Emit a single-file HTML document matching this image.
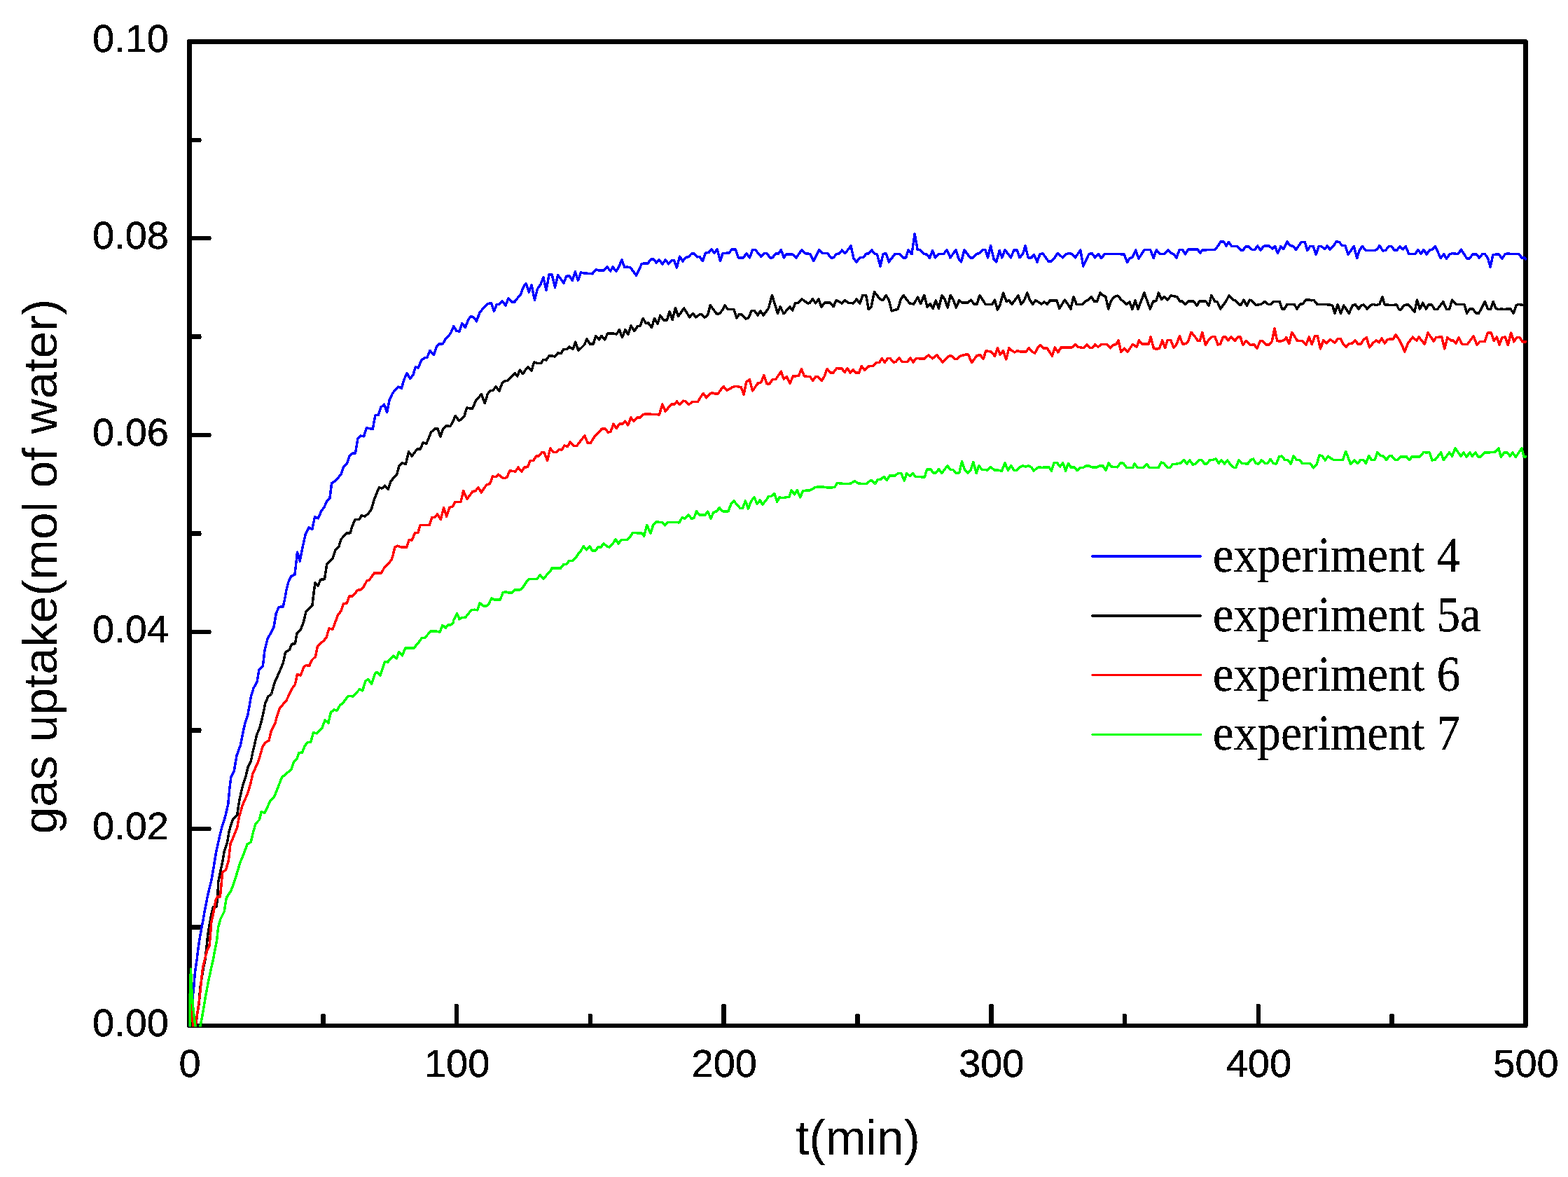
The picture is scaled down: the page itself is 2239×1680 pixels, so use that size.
<!DOCTYPE html>
<html lang="en"><head><meta charset="utf-8"><title>gas uptake vs t</title>
<style>
html,body{margin:0;padding:0;background:#fff;}
body{width:2239px;height:1680px;overflow:hidden;}
svg{display:block;}
.sans{font-family:"Liberation Sans",Arial,Helvetica,sans-serif;fill:#000;}
.serif{font-family:"Liberation Serif","Times New Roman",Times,serif;fill:#000;}
.tick{font-size:56px;stroke:#000;stroke-width:0.4px;}
.title{font-size:70px;stroke:#000;stroke-width:0px;}
.leg{font-size:72px;stroke:#000;stroke-width:0.3px;}
</style></head><body>
<svg xmlns="http://www.w3.org/2000/svg" width="2239" height="1680" viewBox="0 0 2239 1680">
<rect x="0" y="0" width="2239" height="1680" fill="#fff"/>
<defs><filter id="crisp" x="-5%" y="-20%" width="110%" height="140%" color-interpolation-filters="sRGB"><feComponentTransfer><feFuncA type="discrete" tableValues="0 1"/></feComponentTransfer></filter></defs>
<g shape-rendering="crispEdges" fill="#000">
<rect x="267" y="56" width="1915" height="7"/>
<rect x="267" y="1461" width="1915" height="6"/>
<rect x="267" y="56" width="7" height="1411"/>
<rect x="2175" y="56" width="7" height="1411"/>
<rect x="270" y="1320" width="17" height="7"/>
<rect x="287" y="1322" width="1" height="2"/>
<rect x="270" y="1180" width="31" height="6"/>
<rect x="301" y="1182" width="1" height="2"/>
<rect x="270" y="1039" width="17" height="7"/>
<rect x="287" y="1041" width="1" height="2"/>
<rect x="270" y="899" width="31" height="6"/>
<rect x="301" y="901" width="1" height="2"/>
<rect x="270" y="758" width="17" height="7"/>
<rect x="287" y="761" width="1" height="2"/>
<rect x="270" y="618" width="31" height="6"/>
<rect x="301" y="620" width="1" height="2"/>
<rect x="270" y="477" width="17" height="7"/>
<rect x="287" y="480" width="1" height="2"/>
<rect x="270" y="337" width="31" height="6"/>
<rect x="301" y="339" width="1" height="2"/>
<rect x="270" y="197" width="17" height="6"/>
<rect x="287" y="199" width="1" height="2"/>
<rect x="458" y="1448" width="7" height="16"/>
<rect x="459" y="1447" width="5" height="1"/>
<rect x="649" y="1434" width="6" height="30"/>
<rect x="649" y="1433" width="5" height="1"/>
<rect x="840" y="1448" width="6" height="16"/>
<rect x="840" y="1447" width="5" height="1"/>
<rect x="1030" y="1434" width="7" height="30"/>
<rect x="1031" y="1433" width="5" height="1"/>
<rect x="1221" y="1448" width="7" height="16"/>
<rect x="1222" y="1447" width="5" height="1"/>
<rect x="1412" y="1434" width="7" height="30"/>
<rect x="1413" y="1433" width="5" height="1"/>
<rect x="1603" y="1448" width="6" height="16"/>
<rect x="1603" y="1447" width="5" height="1"/>
<rect x="1794" y="1434" width="6" height="30"/>
<rect x="1794" y="1433" width="5" height="1"/>
<rect x="1984" y="1448" width="7" height="16"/>
<rect x="1985" y="1447" width="5" height="1"/>
<rect x="267" y="56" width="1" height="1" fill="#fff"/>
<rect x="2180" y="56" width="2" height="1" fill="#fff"/>
<rect x="2181" y="57" width="1" height="1" fill="#fff"/>
<rect x="267" y="1466" width="1" height="1" fill="#fff"/>
<rect x="2181" y="1465" width="1" height="2" fill="#fff"/>
</g>
<defs><clipPath id="plot"><rect x="269.5" y="57" width="1912" height="1408.4"/></clipPath></defs>
<g clip-path="url(#plot)" fill="none" stroke-width="3.5" stroke-linejoin="round" stroke-linecap="round" shape-rendering="crispEdges">
<path stroke="#0000ff" d="M270.5,1468 276.6,1410.4 278.5,1387.2 281.1,1370 283.1,1352.8 285.8,1335.5 289.1,1318.3 292.4,1299.8 295.7,1282.5 299,1268 302,1256.1 305.4,1235.8 308.8,1215.5 313.6,1193.8 317,1180.2 321.7,1165.3 325.8,1147.6 327.8,1125.9 329.8,1109.7 334.3,1100.2 338,1078.5 343.4,1063.6 346.8,1046.1 350.2,1031.2 353.6,1021.7 356.3,1006.8 358.3,994.6 362,982.4 367.1,972.9 370.1,955.3 375.3,951.2 378,928.2 382.1,911.9 390.9,895.6 394.3,875.3 398.3,866.4 404.4,865.8 407.2,852.2 408.5,844.3 411.9,830.7 415.6,822.6 421,819.9 422.7,805 424.5,788 428.2,800.9 432.2,780.5 436.3,762.2 441,752.7 445.8,755.5 449.5,737.8 454.3,739.9 458.7,729.7 462.7,724.3 466.8,715.4 470.9,711.4 473.6,689.7 479,686.3 487.2,676.8 491,665.5 495.3,661.5 499.1,651 503.4,647 507.5,647 507.8,645 510.9,626.1 514.6,622.1 519.6,622.8 523.4,611 527.5,611.5 532.2,612.6 535.9,592.5 540.4,592.2 544,581.4 548.5,577.3 552.6,588.2 556,571.2 560.7,561 564.8,556.3 568.9,552.2 573.3,554.3 577,541.8 581.1,532.6 585.5,540.4 589.9,535.3 593.3,523.8 597.3,525.1 601.4,514.9 606.1,510.6 609.9,510.2 614,500.3 619.4,506.5 623.5,494.6 627.2,490.8 632.2,490.8 636,484.4 643.4,475.9 647.9,465.4 651.6,472.2 656.1,473.2 659.7,461.4 664.5,467.5 668.5,456.6 672.3,451.5 676.7,453.2 680.5,458.7 684.8,446.4 690.9,439 696.3,433.6 701.6,432.8 705.4,444.1 709.2,434.6 713.3,434.2 717.4,429.9 722,436 725.8,425.8 731.2,431.2 734.6,431.2 739.3,425.1 743.4,421 747.5,409.2 751.3,404.8 755.3,417 759,406.8 763.5,428.2 767.5,412.2 771.9,406.1 775.9,395.9 780,414.3 784.1,391.9 788.2,391.9 792.5,410.2 796.6,392.6 805.1,404.1 808.5,394.3 813.2,393.9 817.3,400.3 821.4,387.8 825.5,400 829.5,388.9 833.6,389.8 841,390.5 845.8,390.8 851.2,384.8 856,386.2 862.7,385.8 867.1,380.8 871.6,387.1 875,381 879.7,387.1 883.8,381 887.8,370.9 891.9,381.7 895.3,381 900,381.7 908.6,393.2 916.3,376.7 920.4,375.9 925.1,375.9 929.2,370.2 933.3,369.9 937.1,374.9 941.4,370.9 945.8,377 950.2,370.9 954.7,376.7 959,371.5 962.4,371.3 966.5,382.1 970.6,366.1 975,372.9 979.1,367.5 982.8,366.8 987.5,362 991.6,362 995.7,366.8 999.5,366.4 1000,367.8 1003.4,372.6 1007.5,361 1012.2,360.4 1015.6,355.9 1020.3,361 1024.1,355.6 1028.5,372.6 1031.9,361.7 1040.7,361 1045.4,355.9 1050.2,355.9 1054.2,367.8 1061.7,367.8 1065.8,361.7 1070.5,367.8 1074.6,356.7 1078.7,356.7 1086.8,366.5 1090.9,361.7 1094.9,361.7 1099.7,367.8 1103.1,367.8 1107.8,361.7 1111.2,362.4 1115.3,356.7 1119.3,367.8 1122.7,363.1 1131.6,363.1 1137,367.8 1144.8,356.7 1149.2,361.7 1156.6,362.4 1161.7,372.6 1169.5,356.7 1175,361.7 1181.7,361.7 1186.5,367.8 1189.9,367.8 1194.6,362.7 1198.7,361.7 1202.4,357 1206.8,361.7 1215,350.9 1219,369.2 1223.1,373.9 1227.8,367.8 1233.3,367.1 1236.7,362.4 1240.7,361.7 1244.8,357 1248.9,362.4 1252.5,363.1 1257,380 1261.1,362.4 1265.1,361.7 1269.2,373.9 1278,362.4 1284.8,362.4 1289.6,367.8 1293.6,367.8 1297,357 1302,362.7 1306.1,333.9 1310.2,356.3 1314.2,356.7 1319,362.4 1323.7,363.1 1327.5,368.5 1331.5,357.6 1335.5,367.8 1340,362.7 1347.5,362.4 1352.2,356.7 1357,367.8 1364.8,356.7 1368.9,369.2 1372.6,373.9 1377,356.7 1385.4,367.8 1389.5,367.8 1394.9,362.4 1398.3,361.7 1403.1,356.7 1407.1,356.7 1410.5,367.8 1414.6,350.9 1419.1,369.8 1422.7,373.9 1427.2,357.6 1430.9,367.8 1434.9,356.7 1443.5,367.8 1447.8,357 1452.2,357 1456,367.8 1460.7,362.4 1464.1,350.9 1468.2,367.8 1472.9,367.8 1476.3,363.5 1481.1,373.9 1485.1,362.4 1489.2,362.1 1497.3,373.2 1501.4,373.2 1505.9,367.8 1510.2,361.7 1517.7,367.8 1522.4,362.7 1526.5,361.7 1530.6,362.4 1535.3,367.8 1542.8,357 1546.8,380 1555,362.4 1559.3,361.7 1563.8,367.8 1568.5,362.4 1572.6,368.5 1577.4,362.7 1599.1,362.7 1605.4,363.1 1609.5,374.6 1613.3,368.5 1617,367.1 1621.7,357 1626,369.2 1633.9,356.7 1642.7,356.7 1647.2,368.5 1651.3,356.7 1656.3,362.7 1662.4,362.4 1667.8,357 1672.6,361.7 1675.9,362.7 1680,368.1 1684.1,356.7 1688.8,356.7 1692.5,362.7 1697,355.9 1709.9,355.9 1713.7,361 1717.3,357 1734.9,356.3 1739,351.3 1743.1,344.8 1747.2,344.8 1751.2,350.9 1754.6,345.4 1758.7,351.5 1766.1,351.5 1771.6,357 1775,357 1779,351.8 1783.1,351.8 1787.8,356.3 1791.9,356.3 1795.6,350.9 1800,357 1804.8,351.3 1811.6,350.9 1817,354.9 1820.8,351.5 1824.5,361.7 1828.9,351.5 1833,355.6 1838,344.8 1842.1,350.5 1846.2,351.3 1850.6,356.3 1858.4,345.4 1863.1,345.4 1866.9,357.6 1870.6,351.5 1875.3,351.5 1879.1,363.1 1883.2,351.5 1886.8,351.5 1891.6,355.6 1895.4,350.9 1899.1,356.3 1904.1,351.3 1907.9,345 1912.2,345.4 1916.3,350.2 1921,350.5 1925.1,363.1 1929.2,357.6 1933.2,351.5 1937.7,368.5 1941.4,357 1945.4,351.5 1950.2,357.6 1963.1,357.6 1966.5,355.9 1969.8,350.5 1974.6,358 1978.7,357.2 1983,351.5 1986.8,351.5 1991.1,357 1994.9,357 1999,351.5 2003.3,355.9 2007.1,351.5 2011.9,362.7 2020.7,362.7 2024.8,356.3 2029.1,362.4 2032.9,356.3 2037,363.1 2041.7,356.7 2045.8,355.9 2049.2,351.3 2057.3,368.5 2061.7,362.7 2065.5,369.2 2070.2,362.7 2074.3,361.7 2081.7,362.7 2086.5,356.3 2094.6,368.9 2098,368.9 2103.2,363.1 2108.2,362.7 2112.3,368.1 2116.7,362.7 2120.4,362.7 2124.5,368.5 2128.1,381.1 2131.9,363.7 2140.1,362.7 2144.8,369.2 2149.3,362.7 2152.9,361.7 2157.7,362.7 2169.2,362.7 2173.3,368.5 2176.7,367.8 2178.5,369.8"/>
<path stroke="#000000" d="M272,1444 274.3,1472 278.8,1472 280.4,1457.3 282,1445.3 284.5,1430.2 285.2,1418.2 286.4,1406.1 288.5,1394.1 290.3,1382 293,1370 295.1,1350.1 297.1,1331.6 300.4,1313 302.4,1302.4 304.3,1294.7 309,1294.5 311,1278.6 311.5,1260.2 314.5,1245.3 317.6,1230.4 320.4,1214.8 324.4,1203.3 327.1,1187 329.8,1177.5 332.6,1169.3 338.7,1163.2 340.7,1149 342.7,1138.2 346.8,1120.5 350.9,1108.3 354.3,1094.1 358.3,1086.6 361,1073.1 363.1,1065 366.5,1048.9 370.5,1040 373.9,1027.2 376.9,1013.6 378.7,1004.1 382.7,994.6 387.5,990.5 392.2,974.3 399.7,957.3 404.4,945.8 407.6,930.9 413.3,927.5 416.6,919.3 421.4,918.7 424.1,903.7 429.5,898.3 433.6,887.5 437,872.5 445.8,864.4 447.8,848.1 449.9,832.1 453.9,836.1 458,827.3 463.4,826.7 466.1,809.7 466.5,805.6 475,797.5 479,785.3 483.8,780.5 486.9,769.7 495.3,760.9 500,760.9 503.4,750 507.2,741.5 512.9,741.5 516.3,735.8 521.1,737.1 525.8,733.1 530.3,727 534,714.1 537.3,705.3 541.4,695.8 545.5,697.1 549.5,693.1 554.3,698.5 558.4,686.3 566.5,677.5 569.9,665.3 574.2,660.5 579.4,662.5 583.5,644.9 588.2,651 595.7,640.8 600,641.5 604.1,631.8 608.9,633.2 615.6,616.9 620.8,611.9 625.1,611.9 628.9,623.4 632.6,612.6 637.1,607.8 642.8,608.5 646.8,601.7 650.2,593.6 655.2,600.4 659,598.3 663.1,593.6 666.5,582.1 674.6,583.4 679.4,571.9 687.5,562.7 692.3,575.7 696.3,562.4 700,557.7 704.1,557.3 707.9,551.9 712.9,558 717.4,546 721.7,543.8 725.1,543.1 732.5,535.6 735.5,532.9 738.7,537 742.3,528.2 746.8,533.6 750.2,528.2 754.2,524.1 759,528.9 762.7,516.9 766.5,518.3 772.6,518.3 775.7,513.3 780,513.9 784.1,507.8 788.2,507.8 792.2,509.2 796.6,503.8 801,504.7 804.4,499 809.9,498.3 812.6,495 818,498.3 821.8,488.2 825.9,500.1 828.8,497.7 834.3,492.2 838.1,484.1 842.4,491.2 847.2,491.2 850.8,479.4 855.3,484.8 859,479.4 863.8,484.8 867.5,476 876.3,476 880.4,477.1 884.4,470.5 888.5,481.7 892.9,470.3 896.9,477.3 901,465.1 905.9,472.6 910.2,465.8 914.3,465.1 918.1,454.3 922.4,461.7 925.8,461 930.6,467.6 934.4,454.3 939,462.1 942.8,450.2 947.5,457 952.3,457 956.1,444.8 960.1,456.7 964.5,439.6 968.5,451.6 976.7,440 984.8,452.9 989.6,447.5 993.6,452.9 999.5,448.6 1000,448.5 1002.7,449.2 1006.1,453.3 1010.6,449.9 1014.2,435.6 1023.1,447.8 1027.1,447.8 1031.9,442.4 1035,435.6 1039.3,441.7 1048.1,441.7 1051.8,453.9 1055.6,448.5 1059.7,449.2 1064.8,455.3 1069.2,453.3 1073.2,443.5 1077.3,443.5 1082.1,449.9 1085.7,443.8 1090.2,449.9 1097.6,439.7 1102.4,421.4 1110.5,447.2 1114.2,437.7 1119.1,447.8 1127.8,438.1 1131.6,443.1 1135.6,432.6 1139.7,432.2 1144.8,426.8 1153.3,432.9 1156,432.6 1160.4,426.8 1164.8,432.9 1168.9,426.8 1172.9,438.1 1177.9,431.8 1185.8,432.2 1190.1,437.7 1194.2,428.6 1202.1,432.9 1206.1,428.6 1211.6,432.2 1218.4,432.9 1223.1,427.2 1227.8,432.9 1231.9,421.4 1236.7,421.4 1240.3,441.7 1244.1,438.3 1248.5,416.6 1257,427.5 1261.1,428.2 1265.1,421.4 1269.2,428.2 1273.3,443.8 1282.1,441.3 1286.2,427.5 1290.2,421.4 1295,428.2 1299.1,432.9 1304.7,434 1310.6,424.1 1314.6,433.6 1319.7,421.4 1324.1,438.3 1328.2,433.6 1332.3,440.4 1336.3,428.8 1340.4,440.4 1345,421.4 1348.8,426.8 1353.2,439 1357.2,421.4 1361,427.5 1365.4,439 1369.8,428.6 1373.9,432.2 1381.4,432.2 1386.8,428.2 1390.9,434.3 1394.9,434 1399,421.4 1407.1,434.3 1416.6,434.3 1420.4,428.2 1424.5,442.1 1428.2,434.3 1432.6,418 1437,430.2 1441,428.8 1444.8,434.3 1453.9,422.1 1458,434.3 1462.5,428.8 1466.8,418 1470.6,428.2 1474.7,434.3 1478.8,428.6 1487.2,434 1491.2,430.9 1495.3,434.3 1499.4,428.8 1508.9,428.8 1512.7,440.4 1520.4,428.2 1524.5,433.6 1528.9,441 1533,423.4 1537.1,434.3 1546.2,434.3 1550.9,429.5 1554.3,428.2 1558.4,423.4 1562.4,430.2 1566.5,430.2 1571,418 1574.6,421.4 1578.7,423.4 1582.8,441 1586.8,428.8 1591.6,423.7 1595.7,422.1 1599.1,425.5 1600,426.8 1608.4,434.3 1612.9,430.9 1617,441.7 1621,428.8 1625.1,441 1633.9,418 1642.3,441 1646.8,430.2 1650.9,429.5 1654.5,418 1658.6,427.5 1662.7,423.7 1667.1,428.2 1672.2,421.8 1680.7,423.7 1684.8,429.9 1688.2,430.2 1692.5,434.3 1696.6,430.2 1704.4,430.2 1709.2,436.3 1712.6,430.2 1722.1,430.2 1726.1,436.3 1729.9,421.4 1734.5,430.2 1738.3,430.9 1742.7,441 1750.5,430.2 1754.9,422.1 1760,427.5 1763.4,428.8 1768.9,434.3 1771.6,435.6 1776,428.2 1780.4,436.3 1784.2,428.2 1787.2,428.8 1793.3,435.6 1800.7,434.3 1806.1,430.5 1810.9,434.3 1814.3,434.3 1818.4,430.5 1827.2,430.5 1830.6,441 1834,441 1838,434.3 1848.2,434.3 1852,441 1856.3,434.3 1860.4,433.6 1864.5,428.2 1870.6,428.2 1872.6,428.8 1876,428.2 1880.7,434.3 1899.1,434.9 1902.7,436.3 1906.1,447.2 1910.2,434.9 1914.6,447.2 1918.7,436 1926.4,447.2 1931.5,435.6 1935.5,434.9 1940,441 1944.1,435.6 1947.5,434.9 1952.2,441 1957,435.6 1961,434.5 1965.1,435.6 1969.8,434.3 1973.9,423.7 1977.3,434.9 1988.2,435.6 1994.3,434.9 1997.6,441.7 2000.4,442.1 2005.1,435.4 2011.2,434.9 2020,445.1 2023.4,428.2 2027.5,441 2031.6,432.2 2036.3,441 2039.7,434.9 2044.4,434.9 2048.5,441.7 2052.6,441.3 2060.7,430.5 2065.5,441.7 2069.5,441.7 2073.6,428.2 2079,434.3 2091,434.3 2094.6,447.2 2098.7,441 2102.8,441 2108.2,447.2 2111.6,447.2 2120.4,430.5 2124.5,441 2128.5,441.7 2132.2,430.5 2136,440.4 2140.1,441.7 2144.1,441 2148.2,441.7 2152.3,440.8 2157,441 2161.1,447.2 2165.1,435.6 2169.2,434.5 2175.3,435.6 2178.5,435.6"/>
<path stroke="#ff0000" d="M272.5,1428 276.5,1472 278.6,1472 280.2,1457.3 282,1445.3 284.1,1430.2 285.6,1418.2 286.8,1406.1 288,1394.1 289.5,1382 292.2,1370 295.7,1356.8 299,1350.1 300.4,1334.2 301.7,1317 305.7,1298.4 308.3,1283.9 310.3,1279.9 314.3,1279.9 315.6,1268 317.6,1245.3 322.7,1241.2 326.5,1227.7 329.2,1203.3 332.6,1196.5 338.7,1180.9 341.4,1166.6 346.1,1149.7 353.6,1132.7 357.6,1119.2 361,1104.2 364.4,1096.8 369.2,1085.9 375.3,1064.9 379.3,1059.7 384.1,1057 387.2,1043.4 392.9,1032.6 395.6,1021.7 399.7,1010.2 408.5,1000.7 417.3,982.4 421.4,977 424.4,962.7 429.3,964.1 433.6,952.6 437,949.6 441.7,950.5 445.1,942.4 450.6,937 453.3,922.7 462.8,913.9 466.1,909.8 469.9,897 475,898.3 482.4,878 487.2,871.9 490.6,861.7 495.3,861 498.7,851.1 503.4,850.8 510.9,842.3 515.6,841.6 519.7,836.8 523.8,829.1 527.2,828 534.6,817.8 544.8,817.8 548.2,811.1 559,799.3 561.1,792.7 563.8,780.8 567.9,779.2 572.6,780.8 580.7,781.2 584.1,770.4 588.2,771 592.3,760.9 597,760.2 600,749.3 607.1,749.5 613.2,749.5 616.9,738.4 621,738.4 624.5,733.9 629.5,741.4 633.6,724.4 637.7,737.3 641.7,724.4 646.5,722.7 649.9,716.3 653.3,716.3 658,716.3 661.7,700.7 667.1,712.2 675,701.4 679,700.7 682.8,695.9 687.4,703.1 691.2,696.6 695.3,691.9 699.4,690.5 700,689.5 703.4,680 708.1,680.7 711.5,677.1 716.3,681.4 720.1,682.7 724.1,681.4 727.8,671.9 735.9,673 740,667.2 744.8,673.3 748.8,667.2 753.6,666.5 757,657.7 761.7,657.3 765.8,650.9 769.2,650.9 773.9,645.5 777.3,646.1 781.6,657.3 785.7,640 790.2,645.5 794.3,645.5 798.3,641.4 802.4,642.1 805.8,636 810.5,637.3 814.2,630.9 819.1,636.4 823.4,636.6 830.2,627.8 834.9,622 839,631.9 843.1,632.6 849.9,621.7 854.6,617.4 859.4,612 864.1,612 868.2,617 872,616.3 876,605.2 880.1,611.5 884.4,605.2 888.5,605.2 892.6,601.1 896.9,606.8 900.7,595.9 905.1,601.4 909.5,596.2 913.6,596.2 918.4,591.9 922.4,590.8 929.2,591.2 941.4,591.9 945.8,577 950.2,587.1 958.4,577 963.1,577 966.5,572.9 970.6,577.6 975.3,572.2 979.4,572.9 983.2,577.6 988.9,573.6 996.3,573.6 1000,567.5 1004.1,561.4 1008.8,567.8 1012.9,562.7 1017,560.7 1021,562.1 1025.1,562.1 1029.2,556.4 1033.2,551.5 1038,557.3 1046.1,552.6 1050.2,551.5 1054.2,551.9 1058.3,552.6 1062.1,563.1 1065.8,545.1 1070.3,541.7 1074.6,558 1082.1,547.1 1086.8,545.8 1090.9,535.3 1094.9,547.8 1099,547.8 1103.1,541.7 1107.8,541.4 1115.3,530.2 1119.3,541 1123.4,537.6 1128.2,547.1 1132.2,537 1140.4,536.6 1144.4,526.5 1148.5,537 1156.6,537.6 1160.7,543.3 1164.8,537.6 1167.5,537.6 1173.3,543.3 1177,537.6 1181.1,526.5 1185.8,532.2 1189.9,532 1194.6,525.7 1202.1,526.1 1206.1,531.5 1209.9,525.7 1214.3,532.2 1218.1,527.5 1222.4,532.2 1226.5,532.2 1230.3,522.5 1234.6,528.2 1240.1,523 1246.8,522.1 1250.9,517.6 1255.7,517.3 1259.3,511.6 1263.4,517.3 1267.5,511.6 1271.2,511.6 1276,517.3 1279.4,516.2 1284.1,510.8 1288.2,516.6 1295.7,516.6 1299.5,511.2 1300,510.9 1304.1,517 1308.1,511.3 1312.2,511.8 1320.3,511.8 1325.8,506.8 1331.5,511.8 1337.7,506.8 1346.1,517 1354.9,508.2 1359,508.2 1363.7,512.3 1367.1,512.3 1371.2,508.2 1378.7,506.1 1382.7,506.1 1387.5,517.7 1394.9,507.5 1399.7,506.8 1404.2,512.3 1407.8,500.7 1415.3,502.1 1420.4,508.2 1424.5,496.7 1428.2,506.1 1432.6,500.7 1436.7,512.9 1440.8,496.7 1444.8,500.5 1448.9,502.8 1453,500.7 1457.3,502.1 1464.8,502.1 1469.3,496.7 1473.6,502.1 1477.7,504.1 1481.7,496.7 1485.8,492.6 1490.6,497.3 1495,496.7 1502.4,508.2 1506.4,496 1510.9,502.8 1515,496 1530.6,496 1535.3,491.5 1539.4,495.3 1547.5,496.7 1552,491.9 1556.3,496.7 1559.7,496.7 1563.8,491.5 1567.9,495.3 1572.6,491.5 1580.7,491.5 1585.5,496.7 1590.2,492.3 1593.6,491.5 1597,485.8 1600.7,502.1 1605.4,497.3 1610.2,502.1 1617.4,491.5 1623.1,495.3 1626.4,485.8 1631.2,491.2 1640,491.2 1643.1,481.1 1647.5,497.3 1651.5,498.3 1655.6,497.3 1659.7,485.8 1663.7,496.7 1667.1,485.5 1671.9,485.8 1675.9,496 1680,491.5 1684.4,479.7 1688.8,491.2 1693.6,490.6 1697,486.5 1701,474.3 1705.8,479.7 1710.5,486.5 1713.2,486.5 1716.9,474.3 1721.4,492.6 1726.1,484.7 1730.9,480.7 1734.9,480.7 1739,491.9 1742.4,491.2 1746.5,481.1 1749.9,481.1 1753.9,485.8 1758,481.1 1763.4,486.5 1767.5,481.1 1771.2,481.1 1775,492.6 1779,486.5 1785.8,492.6 1790.6,491.5 1795,497.3 1799.4,486.9 1802.8,486.5 1808.2,492.3 1812.3,491.9 1816.3,487.2 1820,468.9 1823.8,486.5 1828.5,487.2 1833,485.8 1836.7,481.7 1840.7,490.6 1844.8,474.3 1852.3,486.1 1860.4,486.9 1865.1,491.9 1869.2,481.1 1873.3,491.5 1877.4,479.7 1881.4,479.7 1885.5,498 1889.6,485.8 1894.3,489.9 1899.1,484.4 1906.1,489.2 1910.2,483.8 1914.2,483.4 1918.3,491.2 1922.4,495.3 1926.4,490.6 1931.2,489.9 1935,485.8 1939.3,491.2 1943.4,491.2 1946.8,485.1 1951.3,481.7 1955.6,496 1960.4,489.9 1965.1,485.8 1969.2,488.8 1973,483.1 1977.3,489.9 1981.4,484.4 1989.5,483.8 1992.9,477.7 1997.6,484.4 2001,490.6 2005.8,502.1 2010.5,489.9 2017.3,481.1 2022.7,486.1 2026.1,481.1 2034.3,491.2 2039,475 2043.5,481.7 2047.2,486.9 2050.5,481.7 2058.7,480.7 2062.7,498 2066.8,481.7 2071.6,485.8 2075,486.1 2079,489.9 2083.1,481.7 2087.8,491.2 2095.3,491.5 2100,485.1 2104.1,479.7 2108.9,491.9 2112.7,487.8 2120.4,487.2 2124.5,475 2129.2,475 2133.3,486.5 2137.3,481.1 2141.1,491.9 2144.8,481.7 2149.3,481.1 2153.3,492.6 2157.7,475 2161.8,487.8 2165.8,481.7 2169.9,481.7 2174,487.8 2178.5,487.8"/>
<path stroke="#00ff00" d="M271,1472 271.2,1420 272.5,1383 273.6,1410 275.5,1436 277.5,1454 280,1472 285,1472 285.9,1465.2 288.6,1451.3 291.3,1436.3 293.4,1422.4 296.1,1408.6 298.6,1395.9 301.6,1382 304.3,1370 307,1355.4 309.6,1342.2 311.6,1323.6 314.9,1311.7 320.2,1301.1 322.9,1283.9 324.2,1279.9 329.5,1271.9 333.2,1262.9 338.7,1245.3 342.7,1231.7 348.8,1216.8 352.9,1205.3 358.3,1201.9 361,1189.7 365.1,1175.5 370.5,1170 373.2,1158.5 378,1160.5 382.1,1151.7 385.5,1143.6 391.3,1138.2 395.6,1127.3 402.4,1109.7 410.5,1102.9 416,1098.1 420,1086.6 424.1,1082.5 426.8,1074.4 431.6,1074.1 435,1065 439,1059.7 443.8,1059 447.4,1045.9 452.6,1046.8 460,1038.7 464.1,1027.8 468.9,1031.9 472.3,1017 477,1012.9 481.1,1014.3 485.8,1006.1 489.2,1004.1 497.3,993.3 504.1,993.9 513.6,983.8 517.7,985.8 521.8,972.2 525.8,969.5 530.6,976.3 535.3,962.1 538,959.3 542.8,964.1 549.6,944.4 553.6,945.1 560,937.6 561.7,936.2 566.4,939.8 569.7,930.4 574.4,935.8 578.7,925 591,925 598.6,915.9 602.2,910.9 606.5,910.2 615.2,901.1 621.7,900.9 628.2,902.1 631.9,892.4 636.2,896.4 640.2,892.1 644.2,891.7 647.1,888.5 647.8,885 652.6,875.6 656,883.8 660,881.7 664.8,881.1 672.9,870.9 677.7,870.2 681.7,870.9 685.1,860.7 689.9,864.8 694.6,864.8 698,862.1 700,857.5 702,853.8 706.1,856.1 714.2,856.1 718.3,845.7 722.4,844.9 726.4,846.2 730.5,846.2 735.3,841.9 742.7,841.9 747.5,837.2 751.5,831 755.3,826.3 767.1,826.3 771.2,820.5 775.9,826.3 781.4,819.9 785.2,816.1 788.2,811 797.6,811 800.4,811.4 804.4,806 809.2,805.3 812.6,800.5 817.3,800.5 822.7,795.1 825.5,791 828.8,787.6 833.2,779.5 837.7,784.9 842.1,779.8 845.8,786 850.5,786 853.9,781.1 858,780.9 862.1,775.7 866.8,780.2 870.2,781.1 875,776.1 879,769.7 883.1,776.1 887.2,770.3 895.3,770.3 900,765.7 903.4,760.5 910.2,760.8 917,761.2 919.7,765.3 923.8,749.4 928.9,761.2 932.6,749.7 936.7,744.9 945.5,745.6 949.5,749.7 953.6,745.6 965.8,745.6 969.9,745.9 974,738.8 978,740.2 982.8,734.8 987.5,740.2 990.9,739.5 994.6,729.6 998.4,734.8 1000,735 1006.8,735 1010.8,730.2 1014.9,740.1 1019,731.2 1023.1,729.8 1027.4,724.8 1031.9,729.8 1040,729.8 1044.1,718.7 1047.7,714.9 1052.2,720 1057,725.7 1060.4,725.7 1064.4,714.9 1068.5,726.1 1072.6,715.3 1077,709.9 1081.1,719.4 1085.2,713.9 1088.8,720 1093.6,714.6 1097.6,708.5 1101,708.5 1105.8,704.4 1109.6,716.2 1113.2,709.9 1118,710.8 1122.1,709.9 1126.8,709.2 1130.2,699.7 1134.5,705.8 1138.3,699.7 1142.7,709.9 1146.5,700.4 1156,700 1160,698.3 1164.1,695.4 1169.5,694.9 1175,694.9 1183.8,696.3 1191.9,695.4 1195.3,689.5 1199.4,689.9 1206.1,690.5 1214.3,690.2 1220.4,686.8 1226.5,690.2 1237.3,690.5 1242.8,685.9 1245.5,686.1 1249.5,690.5 1253.6,684.5 1257.7,684.1 1262.4,680.4 1266.1,685.5 1270.6,678.7 1277.4,679.3 1282.8,675.3 1286.8,675.6 1291.3,686.1 1294.6,675.6 1299.5,679.6 1303.4,675.6 1307.5,680.4 1313.6,680.4 1317,681.3 1320.3,681 1323.7,669.9 1329.2,669.9 1332.5,674.9 1336.6,674.9 1340.4,669.5 1344.8,675.4 1352.9,664.8 1357,670.5 1361,670.5 1365.8,675.4 1369.8,674.9 1373.5,658.7 1377.6,670.9 1382.1,675.4 1386.1,670.9 1389.8,659.6 1394.3,675.4 1397.9,664.8 1402.4,670.5 1407.1,670.5 1410.1,671.3 1414.6,666.8 1420,670.9 1426.8,671.3 1430.5,672.2 1434.9,660.7 1439.4,671.3 1443.8,664.5 1447.8,671.3 1451.9,671.3 1456.6,666.8 1460.7,664.8 1464.8,666.1 1468.9,664.8 1472.9,667.2 1476.3,672.2 1481.1,667.5 1485.1,666.8 1487.8,667.5 1491.2,666.8 1498,666.8 1501.4,672.2 1505.1,660.7 1509.5,660.7 1513.6,666.1 1517.7,660.7 1521.7,672.2 1525.4,661.4 1529.2,667.2 1534.6,667.2 1538,671.6 1542.1,667.8 1546.8,667.5 1550.9,664.8 1555,664.8 1559,666.8 1566.5,666.8 1570.6,664.8 1574.6,664.8 1579.1,671.3 1583.2,660.7 1586.8,666.1 1595.7,666.8 1599.5,661.4 1600.7,660.7 1604.1,661.4 1608.8,667.5 1617.6,667.5 1620.1,662.1 1624.4,667.5 1632.5,667.5 1637.7,662.7 1641.4,667.5 1654.2,667.5 1658.3,660 1662.4,661.8 1667.1,667.5 1670.5,667.5 1674.6,662.7 1680,662.1 1686.8,660.7 1690.6,656.6 1694.9,662.1 1698.7,656.9 1703.3,663.1 1707.8,661.8 1711.9,656.6 1716,656.6 1720,662.1 1722.7,662.1 1727.5,656.9 1732.2,656.4 1736.3,655 1740.4,661.4 1744,656.6 1748.5,662.1 1752.6,656.9 1757.3,663.4 1762.1,667.5 1764.8,667.5 1768.9,656.9 1773.6,661.4 1781.7,662.1 1785.8,656.6 1789.6,655 1793.3,661.4 1797.3,662.1 1801.4,656.9 1806.1,661.4 1810.2,661.4 1814,655.3 1818.4,661.4 1822.4,662.1 1826.5,651.9 1830.3,650.9 1834.6,656.4 1839,656.6 1843.4,662.1 1847.1,650.9 1851.6,656.4 1855.7,656.6 1859.7,661.4 1865.8,661.4 1871.2,661.8 1875.6,667.8 1880.1,662.7 1884.1,649.9 1888.2,651.2 1892.3,656.9 1896.3,651.2 1899.5,653.7 1904.1,656.4 1917.6,656.4 1921.7,644.4 1928.8,662.7 1933.6,656.9 1938.7,661.4 1942.7,656.6 1946.8,656.6 1950.5,661.4 1954.5,650.5 1958.3,656.4 1963.1,656.4 1966.7,645.5 1971.2,650.5 1975.3,651.2 1979.7,656.4 1984.1,650.5 1987.5,650.9 1992.2,656.4 1995.6,656.4 2000.1,651.9 2008.5,651.9 2012.6,656.6 2016,651.9 2020.7,651.9 2026.8,652.3 2032.9,645.5 2037,646.1 2041,645.5 2045.1,656.9 2049.2,656.4 2057.6,645.8 2061.4,656.6 2069.5,645.8 2073.6,651.2 2077.9,639.7 2086.1,651.2 2089.9,645.8 2094.2,652.3 2098.7,645.8 2102.4,651.2 2106.8,645.8 2110.9,652.3 2114.3,651.9 2119.7,646.1 2127.8,645.8 2135.3,645.1 2139.8,639.7 2143.4,652.3 2148.2,645.8 2152.3,645.8 2156.3,651.2 2159.7,645.8 2164.5,652.3 2172.9,639.7 2176,651.9 2178.5,651.9"/>
</g>
<g class="sans tick" text-anchor="end" filter="url(#crisp)">
<text transform="translate(241,1478.5) scale(1,1.0)">0.00</text>
<text transform="translate(241,1197.6) scale(1,1.0)">0.02</text>
<text transform="translate(241,916.7) scale(1,1.0)">0.04</text>
<text transform="translate(241,635.8) scale(1,1.0)">0.06</text>
<text transform="translate(241,354.9) scale(1,1.0)">0.08</text>
<text transform="translate(241,74.0) scale(1,1.0)">0.10</text>
</g>
<g class="sans tick" text-anchor="middle" filter="url(#crisp)">
<text transform="translate(271.0,1537) scale(1,1.0)">0</text>
<text transform="translate(652.6,1537) scale(1,1.0)">100</text>
<text transform="translate(1034.2,1537) scale(1,1.0)">200</text>
<text transform="translate(1415.8,1537) scale(1,1.0)">300</text>
<text transform="translate(1797.4,1537) scale(1,1.0)">400</text>
<text transform="translate(2179.0,1537) scale(1,1.0)">500</text>
</g>
<text class="sans title" style="font-size:69.5px" text-anchor="middle" x="1225" y="1648" filter="url(#crisp)">t(min)</text>
<g filter="url(#crisp)"><text class="sans title" style="font-size:69.4px" text-anchor="middle" transform="translate(81,808.5) rotate(-90)">gas uptake(mol of water)</text></g>
<g shape-rendering="crispEdges">
<rect x="1558" y="793" width="158" height="2" fill="#0000ff"/>
<rect x="1559" y="792" width="156" height="4" fill="#0000ff"/>
<rect x="1558" y="878" width="158" height="2" fill="#000000"/>
<rect x="1559" y="877" width="156" height="4" fill="#000000"/>
<rect x="1559" y="962" width="157" height="3" fill="#ff0000"/>
<rect x="1558" y="963" width="1" height="1" fill="#ff0000"/>
<rect x="1559" y="1047" width="157" height="3" fill="#00ff00"/>
<rect x="1558" y="1048" width="1" height="1" fill="#00ff00"/>
</g>
<g class="serif leg" filter="url(#crisp)">
<text transform="translate(1731.8,816.1) scale(0.935,1)">experiment 4</text>
<text transform="translate(1731.8,900.8) scale(0.935,1)">experiment 5a</text>
<text transform="translate(1731.8,985.5) scale(0.935,1)">experiment 6</text>
<text transform="translate(1731.8,1070.2) scale(0.935,1)">experiment 7</text>
</g>
</svg></body></html>
